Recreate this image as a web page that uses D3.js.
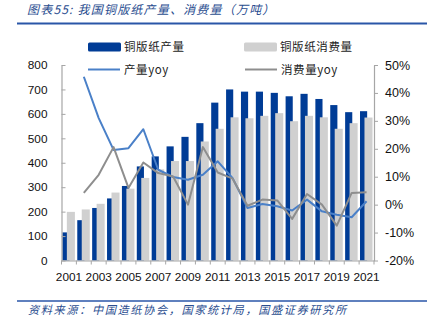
<!DOCTYPE html>
<html>
<head>
<meta charset="utf-8">
<script src="https://cdn.jsdelivr.net/npm/d3@7"></script>
<style>
  html, body { margin: 0; padding: 0; background: #fff; }
  svg { display: block; }
  .tick text { font-family: "Liberation Sans", Arial, sans-serif; fill: #111; }
</style>
</head>
<body>
<svg id="chart" width="435" height="323"></svg>
<script>
// 铜版纸产量、消费量（万吨）与同比增速
const years = ["2001","2002","2003","2004","2005","2006","2007","2008","2009","2010","2011",
               "2012","2013","2014","2015","2016","2017","2018","2019","2020","2021"];
const production  = [115,165,215,254,305,385,426,467,506,562,646,700,691,691,686,672,682,661,636,607,611];
const consumption = [199,209,232,278,294,338,373,407,407,487,539,586,582,592,603,570,592,586,539,562,585];
const productionYoy  = [null,45.8,31.0,19.6,20.2,27.0,12.5,9.9,8.9,10.7,15.5,9.5,-1.2,0.2,-0.6,-2.1,1.8,-2.4,-3.6,-4.5,1.2];
const consumptionYoy = [null,4.2,10.7,20.6,6.0,15.1,11.3,10.1,0.0,20.6,11.5,9.3,-0.4,1.8,1.5,-5.1,3.8,0.0,-7.5,4.2,4.4];
const leftTicks  = [0,100,200,300,400,500,600,700,800];
const rightTicks = [-20,-10,0,10,20,30,40,50];
const shownYears = years.filter((d, i) => i % 2 === 0);

const colors = {
  prodBar: "#003c96",
  consBar: "#d0d0d0",
  prodLine: "#4a80c8",
  consLine: "#8e8e8e",
  axis: "#a6a6a6",
  rule: "#2a56a8",
  caption: "#2a4d8f"
};

const svg = d3.select("#chart");
const plot = { left: 61.5, right: 374, top: 65, bottom: 260.5 };

const x = d3.scaleBand().domain(years).range([plot.left, plot.right]).padding(0);
const yL = d3.scaleLinear().domain([0, 800]).range([plot.bottom, plot.top]);
const yR = d3.scaleLinear().domain([-20, 50]).range([plot.bottom, plot.top]);
const bw = x.bandwidth();

// title and rules
svg.append("text")
  .attr("x", 27).attr("y", 14)
  .attr("font-family", "'Noto Sans CJK SC', sans-serif")
  .attr("font-size", 12).attr("font-style", "italic")
  .attr("letter-spacing", 1.2)
  .attr("fill", colors.caption)
  .text("图表55:  我国铜版纸产量、消费量（万吨）");
svg.append("line").attr("x1", 17).attr("x2", 427).attr("y1", 23.5).attr("y2", 23.5)
  .attr("stroke", colors.rule).attr("stroke-width", 2);
svg.append("line").attr("x1", 17).attr("x2", 427).attr("y1", 301).attr("y2", 301)
  .attr("stroke", colors.rule).attr("stroke-width", 1.5);
svg.append("text")
  .attr("x", 28).attr("y", 314)
  .attr("font-family", "'Noto Sans CJK SC', sans-serif")
  .attr("font-size", 11.2).attr("font-style", "italic")
  .attr("letter-spacing", 1.6)
  .attr("fill", colors.caption)
  .text("资料来源：中国造纸协会，国家统计局，国盛证券研究所");

// bars: production first, consumption drawn over it
svg.append("g").selectAll("rect").data(years).join("rect")
  .attr("x", (d) => x(d) + bw * 0.06)
  .attr("width", bw * 0.48)
  .attr("y", (d, i) => yL(production[i]))
  .attr("height", (d, i) => yL(0) - yL(production[i]))
  .attr("fill", colors.prodBar);
svg.append("g").selectAll("rect").data(years).join("rect")
  .attr("x", (d) => x(d) + bw * 0.36)
  .attr("width", bw * 0.54)
  .attr("y", (d, i) => yL(consumption[i]))
  .attr("height", (d, i) => yL(0) - yL(consumption[i]))
  .attr("fill", colors.consBar);

// axes
const gL = svg.append("g").attr("transform", `translate(${plot.left},0)`)
  .call(d3.axisLeft(yL).tickValues(leftTicks).tickSize(-4).tickSizeOuter(0).tickPadding(14));
gL.selectAll("text").attr("font-size", 11.8);
const gR = svg.append("g").attr("transform", `translate(${plot.right},0)`)
  .call(d3.axisRight(yR).tickValues(rightTicks).tickSize(4).tickSizeOuter(0).tickPadding(7)
    .tickFormat((d) => d + "%"));
gR.selectAll("text").attr("font-size", 12.5);
const gB = svg.append("g").attr("transform", `translate(0,${plot.bottom})`)
  .call(d3.axisBottom(x).tickValues(shownYears).tickSize(0).tickSizeOuter(0).tickPadding(12));
gB.selectAll("text").attr("font-size", 11.8);
// category boundary ticks on the baseline
gB.append("g").selectAll("line").data(years.concat(["end"])).join("line")
  .attr("x1", (d) => d === "end" ? plot.right : x(d))
  .attr("x2", (d) => d === "end" ? plot.right : x(d))
  .attr("y1", 0).attr("y2", 4)
  .attr("stroke", colors.axis);
[gL, gR, gB].forEach((g) => {
  g.selectAll("path.domain").attr("stroke", colors.axis).attr("stroke-width", 1.2);
  g.selectAll(".tick line").attr("stroke", colors.axis);
});

// yoy lines on the right axis
const line = d3.line()
  .defined((d) => d.v !== null)
  .x((d) => x(d.year) + bw / 2)
  .y((d) => yR(d.v));
const lineData = (arr) => years.map((year, i) => ({ year, v: arr[i] }));
svg.append("path").datum(lineData(productionYoy))
  .attr("d", line).attr("fill", "none")
  .attr("stroke", colors.prodLine).attr("stroke-width", 2).attr("stroke-linejoin", "round");
svg.append("path").datum(lineData(consumptionYoy))
  .attr("d", line).attr("fill", "none")
  .attr("stroke", colors.consLine).attr("stroke-width", 2).attr("stroke-linejoin", "round");

// legend
const legend = svg.append("g")
  .attr("font-family", "'Noto Sans CJK SC', sans-serif")
  .attr("font-size", 11.5).attr("fill", "#222");
const items = [
  { kind: "bar",  color: colors.prodBar,  label: "铜版纸产量",   lx: 88,  ly: 47 },
  { kind: "bar",  color: colors.consBar,  label: "铜版纸消费量", lx: 244, ly: 47 },
  { kind: "line", color: colors.prodLine, label: "产量yoy",      lx: 88,  ly: 69.5 },
  { kind: "line", color: colors.consLine, label: "消费量yoy",    lx: 245, ly: 69.5 }
];
items.forEach((it) => {
  if (it.kind === "bar") {
    legend.append("rect").attr("x", it.lx).attr("y", it.ly - 4.5)
      .attr("width", 33).attr("height", 9).attr("rx", 1.5).attr("fill", it.color);
  } else {
    legend.append("line").attr("x1", it.lx).attr("x2", it.lx + 32)
      .attr("y1", it.ly).attr("y2", it.ly)
      .attr("stroke", it.color).attr("stroke-width", 2);
  }
  legend.append("text").attr("x", it.lx + 36).attr("y", it.ly + 4)
    .attr("letter-spacing", 0.6)
    .text(it.label);
});
</script>
</body>
</html>
